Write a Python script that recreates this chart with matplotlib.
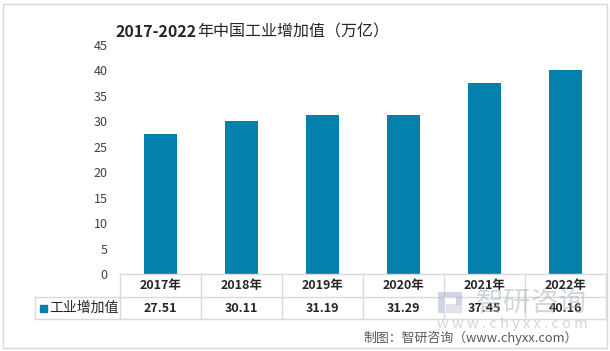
import matplotlib
matplotlib.use('Agg')
import matplotlib.pyplot as plt
from matplotlib.patches import Rectangle
import matplotlib.transforms as mtransforms

plt.rcParams['font.family'] = ['Noto Sans CJK SC', 'DejaVu Sans']

years = ['2017年', '2018年', '2019年', '2020年', '2021年', '2022年']
values = [27.51, 30.11, 31.19, 31.29, 37.45, 40.16]
value_labels = ['27.51', '30.11', '31.19', '31.29', '37.45', '40.16']
yticks = [0, 5, 10, 15, 20, 25, 30, 35, 40, 45]
series_name = '工业增加值'
title_num = '2017-2022'
title_txt = '年中国工业增加值（万亿）'
source = '制图：智研咨询（www.chyxx.com）'

bar_color = '#0380AC'
grid_color = '#D9D9D9'

W, H = 610, 351
fig = plt.figure(figsize=(W / 100, H / 100), dpi=100)

# outer frame
fig.patches.append(Rectangle((3 / W, 3 / H), 604 / W, 344 / H, transform=fig.transFigure,
                             fill=False, edgecolor='#D9D9D9', lw=1))

ax = fig.add_axes([120 / W, 1 - 274 / H, 486 / W, 229 / H])
x = list(range(len(years)))
ax.bar(x, values, width=0.4, color=bar_color, zorder=2)
ax.set_xlim(-0.5, len(years) - 0.5)
ax.set_ylim(0, 45)
ax.set_yticks(yticks)
ax.set_yticklabels([str(t) for t in yticks], fontsize=9, color='#404040')
ax.tick_params(axis='y', length=0, pad=9)
ax.set_xticks([])
for s in ax.spines.values():
    s.set_visible(False)

# data table below the axis
trans = mtransforms.blended_transform_factory(ax.transData, ax.transAxes)
px = 1 / 229.0
row1 = -23 * px
row2 = -45 * px
kw = dict(color=grid_color, lw=1, clip_on=False, transform=trans)
ax.plot([-0.5, len(years) - 0.5], [0, 0], **kw)
ax.plot([-0.5, len(years) - 0.5], [row1, row1], **kw)
ax.plot([-0.5, len(years) - 0.5], [row2, row2], **kw)
for i in range(len(years) + 1):
    ax.plot([i - 0.5, i - 0.5], [0, row2], **kw)
# legend cell
leg_left = -0.5 - 85 / 81.0
ax.plot([leg_left, -0.5], [row1, row1], **kw)
ax.plot([leg_left, -0.5], [row2, row2], **kw)
ax.plot([leg_left, leg_left], [row1, row2], **kw)

for i, (yr, lab) in enumerate(zip(years, value_labels)):
    ax.text(i, row1 / 2, yr, transform=trans, ha='center', va='center',
            fontsize=9, fontweight='bold', color='#262626', zorder=5)
    ax.text(i, (row1 + row2) / 2, lab, transform=trans, ha='center', va='center',
            fontsize=9, fontweight='bold', color='#262626', zorder=5)

ax.add_patch(Rectangle((leg_left + 0.06, (row1 + row2) / 2 - 3.5 * px), 0.085, 7 * px,
                       transform=trans, color=bar_color, clip_on=False))
ax.text(leg_left + 0.18, (row1 + row2) / 2, series_name, transform=trans,
        ha='left', va='center', fontsize=10, color='#262626')

# watermark (logo + site name)
wm = '#A7B0BA'
for (lx, ly, lw_, lh, c) in [(438, 292, 6, 21, '#8FA6C8'), (444, 292, 18, 5, '#8FA6C8'),
                             (456, 297, 6, 8, '#8FA6C8'), (446, 304, 16, 5, '#B9C3CF'),
                             (446, 309, 16, 4, '#B9C3CF')]:
    fig.patches.append(Rectangle((lx / W, 1 - (ly + lh) / H), lw_ / W, lh / H,
                                 transform=fig.transFigure, color=c, alpha=0.45, lw=0))
fig.text(476 / W, 1 - 303 / H, '智研咨询', fontsize=20, color=wm, alpha=0.5,
         ha='left', va='center', zorder=0)
fig.text(437 / W, 1 - 324 / H, 'w w w . c h y x x . c o m', fontsize=10.5,
         color=wm, alpha=0.5, ha='left', va='center', zorder=0)

t1 = fig.text(116 / W, 1 - 32 / H, title_num, fontsize=11.5, fontweight='bold',
              color='#262626', ha='left', va='center')
fig.canvas.draw()
bb = t1.get_window_extent()
fig.text(bb.x1 / W, 1 - 32 / H, title_txt, fontsize=11.5, color='#262626',
         ha='left', va='center')
fig.text(578 / W, 1 - 338 / H, source, fontsize=9.3, color='#595959',
         ha='right', va='center')

fig.savefig('out.png', dpi=100)
